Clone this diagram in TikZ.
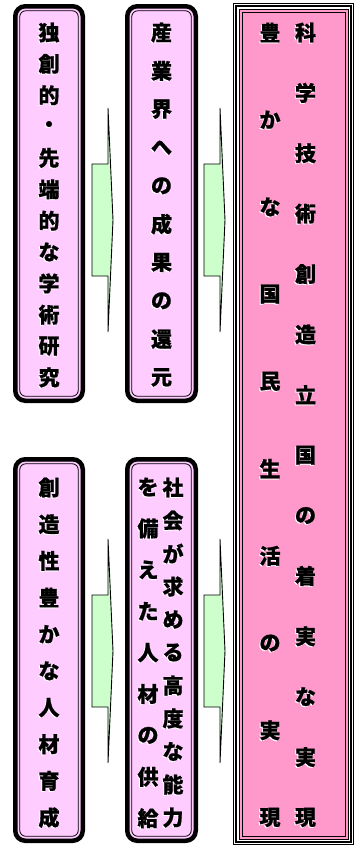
\documentclass[tikz,border=0pt]{standalone}
\usepackage{fontspec}
\newfontfamily\jp{Noto Sans CJK JP}[BoldFeatures={FakeBold=0.8}]
\definecolor{boxpink}{HTML}{FFCCFF}
\definecolor{bigpink}{HTML}{FF99CC}
\definecolor{arrgreen}{HTML}{CCFFCC}
\newcommand\sh[1]{\makebox[0pt][l]{\hspace{-1pt}\raisebox{-1pt}{\textcolor{white}{#1}}}#1}
\tikzset{
  jbox/.style={draw=black, line width=4.5pt, rounded corners=10pt, fill=boxpink, inner sep=0pt, outer sep=0pt},
  jinner/.style={draw=black, line width=0.8pt, rounded corners=6pt},
  jch/.style={font=\jp\bfseries\fontsize{21}{21}\selectfont, inner sep=0pt, text=black},
  arrowshape/.style={fill=arrgreen, draw=black, line width=0.9pt, line join=miter},
  pics/blockarr/.style={code={
    \draw[arrowshape] (0,-56) -- (16,-56) -- (16,-112) -- (21,0) -- (16,112) -- (16,56) -- (0,56) -- cycle;
  }}
}
\begin{document}
\begin{tikzpicture}[x=1pt,y=-1pt]
\useasboundingbox (0,0) rectangle (355,846);
% small boxes
\node[jbox, minimum width=67.5pt, minimum height=394.5pt] (b1) at (49,203.5) {};
\node[jbox, minimum width=68.5pt, minimum height=394.5pt] (b2) at (161.5,203.5) {};
\node[jbox, minimum width=67.5pt, minimum height=381.5pt] (b4) at (49,650) {};
\node[jbox, minimum width=68.5pt, minimum height=381.5pt] (b5) at (161.5,650) {};
\foreach \b in {b1,b2,b4,b5}{
  \draw[jinner] ([shift={(4.5,4.5)}]\b.north west) rectangle ([shift={(-4.5,-4.5)}]\b.south east);
}
% big box
\node[draw=black, line width=0.8pt, fill=white, minimum width=120.2pt, minimum height=841.2pt, inner sep=0pt, outer sep=0pt] (b3) at (293.5,424) {};
\draw[line width=2pt] ([shift={(3,3)}]b3.north west) rectangle ([shift={(-3,-3)}]b3.south east);
\draw[line width=0.8pt, fill=bigpink] ([shift={(5.5,5.5)}]b3.north west) rectangle ([shift={(-5.5,-5.5)}]b3.south east);
\draw[line width=0.6pt] ([shift={(8.5,8.5)}]b3.north west) rectangle ([shift={(-8.5,-8.5)}]b3.south east);
% arrows
\pic (a1) at (92,220) {blockarr};
\pic (a2) at (204,220) {blockarr};
\pic (a3) at (92,651) {blockarr};
\pic (a4) at (204,651) {blockarr};
% texts
\foreach \c [count=\i from 0] in {独,創,的,・,先,端,的,な,学,術,研,究}
  \node[jch] (t1-\i) at (49,{33+31.36*\i}) {\sh{\c}};
\foreach \c [count=\i from 0] in {産,業,界,へ,の,成,果,の,還,元}
  \node[jch] (t2-\i) at (161.5,{33+38.33*\i}) {\sh{\c}};
\foreach \c [count=\i from 0] in {創,造,性,豊,か,な,人,材,育,成}
  \node[jch] (t4-\i) at (49,{488+36.67*\i}) {\sh{\c}};
\foreach \c [count=\i from 0] in {社,会,が,求,め,る,高,度,な,能,力}
  \node[jch] (t5r-\i) at (173,{488+33*\i}) {\sh{\c}};
\foreach \c [count=\i from 0] in {を,備,え,た,人,材,の,供,給}
  \node[jch] (t5l-\i) at (148,{487.5+41.4*\i}) {\sh{\c}};
\foreach \c [count=\i from 0] in {科,学,技,術,創,造,立,国,の,着,実,な,実,現}
  \node[jch] (t3r-\i) at (305.5,{33+60.38*\i}) {\sh{\c}};
\foreach \c [count=\i from 0] in {豊,か,な,国,民,生,活,の,実,現}
  \node[jch] (t3l-\i) at (270,{33+87.22*\i}) {\sh{\c}};
\end{tikzpicture}
\end{document}
